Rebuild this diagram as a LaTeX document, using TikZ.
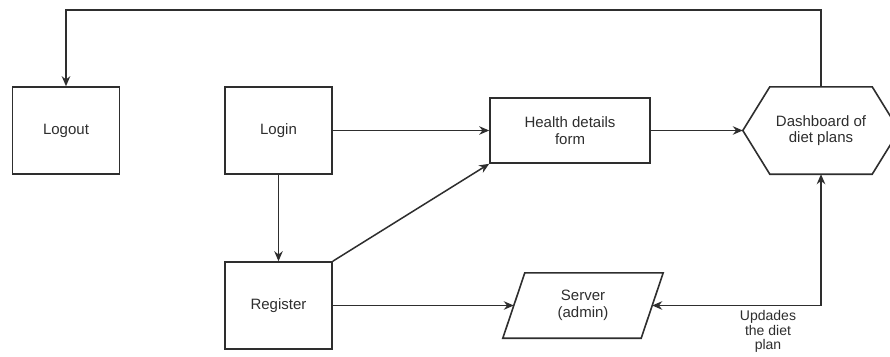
\documentclass[tikz,border=0pt]{standalone}
\usepackage{fontspec}
\setmainfont{Liberation Sans}
\usetikzlibrary{arrows.meta}
\definecolor{ln}{HTML}{2E2E2E}
\tikzset{
  box/.style={draw=ln, line width=1.6pt, minimum width=107pt, minimum height=87pt, inner sep=0pt, align=center},
  lbl/.style={text=ln, font=\fontsize{15}{16.5}\selectfont, align=center},
  conn/.style={draw=ln, line width=1.5pt, -{Stealth[length=10pt,width=8.5pt]}},
  plain/.style={draw=ln, line width=1.6pt},
}
\begin{document}
\begin{tikzpicture}[x=1pt,y=-1pt]
\useasboundingbox (0,0) rectangle (890,356);
\clip (0,0) rectangle (890,356);
\fill[white] (0,0) rectangle (890,356);
% nodes
\node[box, lbl] (logout) at (66,130.5) {Logout};
\node[box, lbl] (login) at (278.5,130.5) {Login};
\node[box, lbl] (register) at (278.5,305.5) {Register};
\node[box, lbl, minimum width=160pt, minimum height=65pt] (health) at (570,130.5) {Health details\\form};
% dashboard hexagon
\node[lbl, minimum width=156pt, minimum height=87pt, inner sep=0pt] (dash) at (821,130.5) {Dashboard of\\diet plans};
\draw[plain, line join=miter] (dash.west) -- ([xshift=27pt]dash.north west) -- ([xshift=-27pt]dash.north east) -- (dash.east) -- ([xshift=-27pt]dash.south east) -- ([xshift=27pt]dash.south west) -- cycle;
% server parallelogram
\node[lbl, minimum width=138pt, minimum height=65pt, inner sep=0pt] (server) at (583,305.5) {Server\\(admin)};
\draw[plain, line join=miter] ([xshift=-11pt]server.south west) -- ([xshift=11pt]server.north west) -- ([xshift=11pt]server.north east) -- ([xshift=-11pt]server.south east) -- cycle;
\coordinate (srvL) at (server.west);
\coordinate (srvR) at (server.east);
% connectors
\coordinate (topR) at (821,10);
\coordinate (topL) at (66,10);
\draw[conn] (dash.north) -- (topR) -- (topL) -- (logout.north);
\draw[conn] (login.east) -- (health.west);
\draw[conn] (health.east) -- (dash.west);
\draw[conn] (login.south) -- (register.north);
\draw[conn] (register.north east) -- (health.south west);
\draw[conn] (register.east) -- (srvL);
\coordinate (corner) at (821,305.5);
\draw[conn] (corner) -- (dash.south);
\draw[conn] (corner) -- (srvR);
\node[lbl, anchor=north, font=\fontsize{14}{14.8}\selectfont, inner sep=0pt] (upd) at (768,310) {Updades\\the diet\\plan};
\end{tikzpicture}
\end{document}
